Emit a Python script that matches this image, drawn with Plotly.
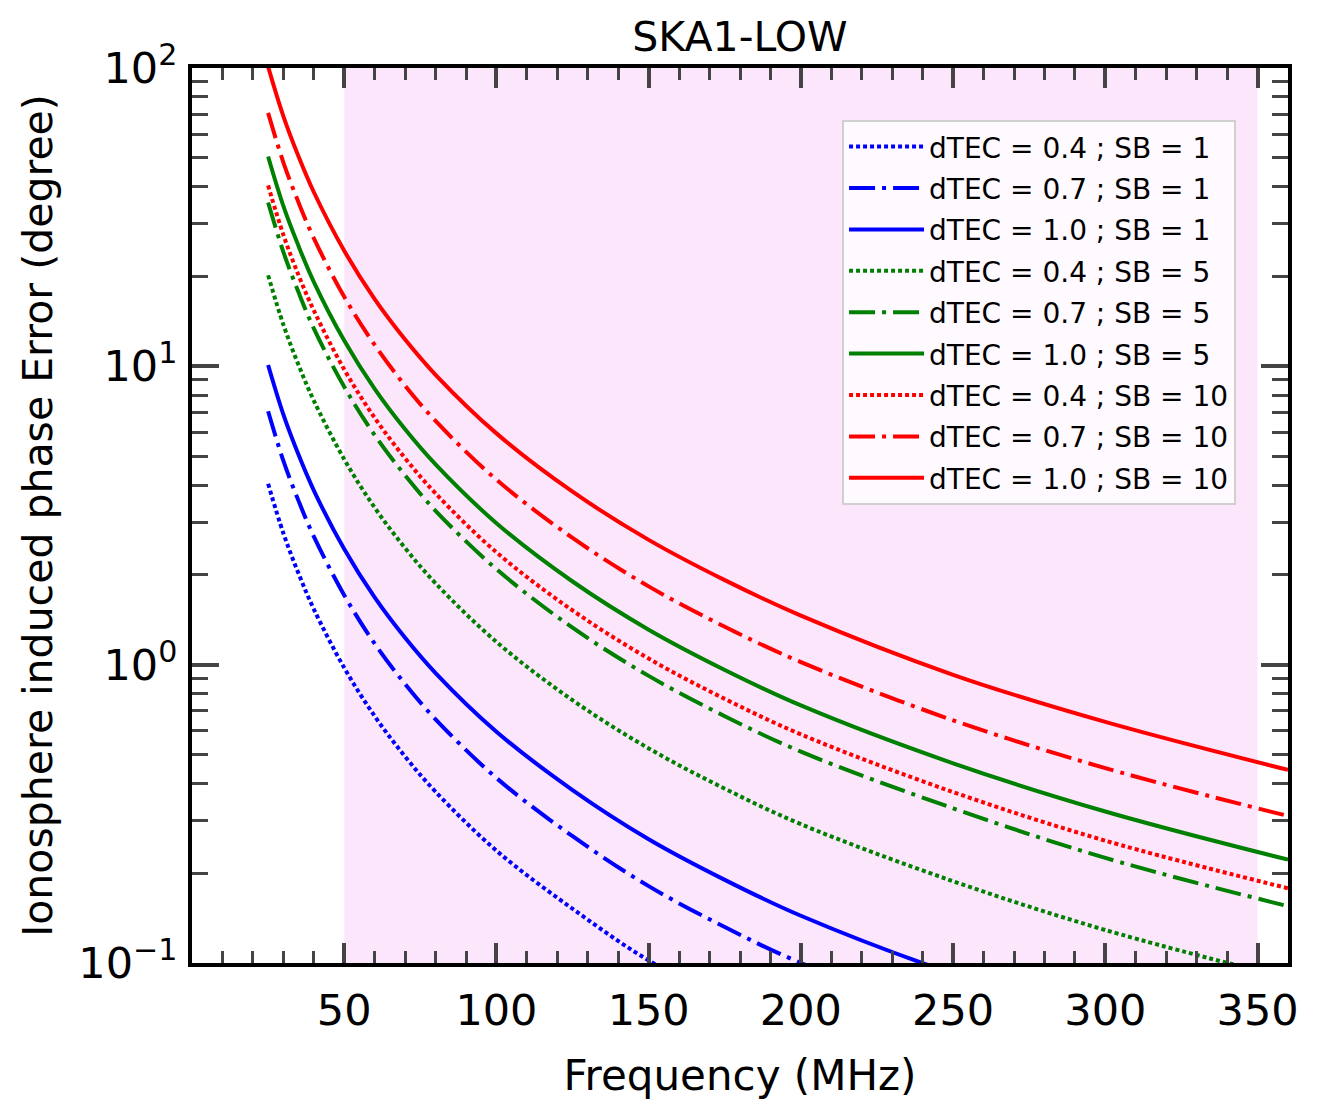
import plotly.graph_objects as go

freq = [25, 30, 35, 40, 50, 60, 70, 80, 100, 125, 150, 175, 200, 250, 300, 360]

# phase error (degree) for each dTEC / SB combination
err_04_1 = [4.04, 2.76, 2.02, 1.536, 0.976, 0.672, 0.492, 0.375, 0.238, 0.152, 0.102, 0.0755, 0.0575, 0.0368, 0.0257, 0.0178]
err_07_1 = [7.07, 4.83, 3.54, 2.69, 1.71, 1.176, 0.861, 0.656, 0.417, 0.266, 0.181, 0.132, 0.1, 0.064, 0.045, 0.0311]
err_10_1 = [10.1, 6.9, 5.05, 3.84, 2.44, 1.68, 1.23, 0.937, 0.596, 0.380, 0.26, 0.19, 0.144, 0.092, 0.0643, 0.0444]
err_04_5 = [20.2, 13.8, 10.1, 7.68, 4.88, 3.36, 2.46, 1.874, 1.192, 0.76, 0.524, 0.384, 0.292, 0.188, 0.129, 0.0888]
err_07_5 = [35.4, 24.2, 17.7, 13.4, 8.54, 5.88, 4.31, 3.28, 2.09, 1.33, 0.917, 0.672, 0.511, 0.33, 0.225, 0.155]
err_10_5 = [50.5, 34.5, 25.3, 19.2, 12.2, 8.4, 6.15, 4.69, 2.98, 1.9, 1.31, 0.96, 0.73, 0.467, 0.322, 0.222]
err_04_10 = [40.4, 27.6, 20.2, 15.4, 9.76, 6.72, 4.92, 3.75, 2.38, 1.52, 1.048, 0.768, 0.584, 0.374, 0.257, 0.178]
err_07_10 = [70.7, 48.3, 35.4, 26.9, 17.1, 11.8, 8.61, 6.56, 4.17, 2.66, 1.83, 1.34, 1.02, 0.651, 0.45, 0.311]
err_10_10 = [101, 69, 50.5, 38.4, 24.4, 16.8, 12.3, 9.37, 5.96, 3.8, 2.62, 1.92, 1.46, 0.925, 0.643, 0.444]

labels = [
    "dTEC = 0.4 ; SB = 1", "dTEC = 0.7 ; SB = 1", "dTEC = 1.0 ; SB = 1",
    "dTEC = 0.4 ; SB = 5", "dTEC = 0.7 ; SB = 5", "dTEC = 1.0 ; SB = 5",
    "dTEC = 0.4 ; SB = 10", "dTEC = 0.7 ; SB = 10", "dTEC = 1.0 ; SB = 10",
]
series = [err_04_1, err_07_1, err_10_1, err_04_5, err_07_5, err_10_5,
          err_04_10, err_07_10, err_10_10]

# SKA1-LOW band
band = [50, 350]

x_ticks = [50, 100, 150, 200, 250, 300, 350]
y_ticks = [0.1, 1, 10, 100]
y_ticktext = ["10<sup>\u22121</sup>", "10<sup>0</sup>", "10<sup>1</sup>", "10<sup>2</sup>"]

colors = ["blue", "blue", "blue", "green", "green", "green", "red", "red", "red"]
dots = "4px,3px"
dashdot = "26px,7px,4px,7px"
dashes = [dots, dashdot, "solid"] * 3

fig = go.Figure()
for i, (lab, y) in enumerate(zip(labels, series)):
    fig.add_trace(go.Scatter(
        x=freq, y=y, mode="lines", name=lab, legendgroup=str(i),
        line=dict(color=colors[i], width=4, dash=dashes[i], shape="spline"),
    ))

fig.add_vrect(x0=band[0], x1=band[1], fillcolor="rgba(238,130,238,0.2)",
              line_width=0, layer="below")

font = "DejaVu Sans"
minor_x = [v for v in range(10, 361, 10) if v % 50 != 0]
minor_y = [m * 10 ** e for e in (-1, 0, 1) for m in range(2, 10)]

# the page body adds 8px around the figure
fig.update_layout(
    width=1309, height=1111,
    margin=dict(l=184, r=29, t=60, b=156),
    paper_bgcolor="white", plot_bgcolor="white",
    font=dict(family=font, size=43, color="black"),
    title=dict(text="SKA1-LOW", x=0.5, xref="paper", y=0.974, yanchor="middle",
               font=dict(size=41)),
    legend=dict(x=0.9526, y=0.942, xanchor="right", yanchor="top",
                bgcolor="rgba(255,255,255,0.8)", bordercolor="#d0d0d0", borderwidth=2,
                font=dict(size=28), tracegroupgap=2, itemwidth=75),
    showlegend=True,
)
fig.update_xaxes(
    range=[0, 360], tickvals=x_ticks, ticks="inside", ticklen=20, tickwidth=4,
    showline=True, linewidth=4, linecolor="black", mirror="ticks", showgrid=False,
    zeroline=False, ticklabelstandoff=6,
    title=dict(text="Frequency (MHz)", standoff=28, font=dict(size=42)),
    minor=dict(tickvals=minor_x, ticks="inside", ticklen=12, tickwidth=2.5, showgrid=False),
)
fig.update_yaxes(
    type="log", range=[-1, 2], tickvals=y_ticks, ticktext=y_ticktext,
    ticks="inside", ticklen=27, tickwidth=4,
    showline=True, linewidth=4, linecolor="black", mirror="ticks", showgrid=False,
    zeroline=False, ticklabelstandoff=2,
    title=dict(text="Ionosphere induced phase Error (degree)", standoff=14, font=dict(size=41)),
    minor=dict(tickvals=minor_y, ticks="inside", ticklen=16, tickwidth=2.5, showgrid=False),
)

fig.write_html("out.html")
